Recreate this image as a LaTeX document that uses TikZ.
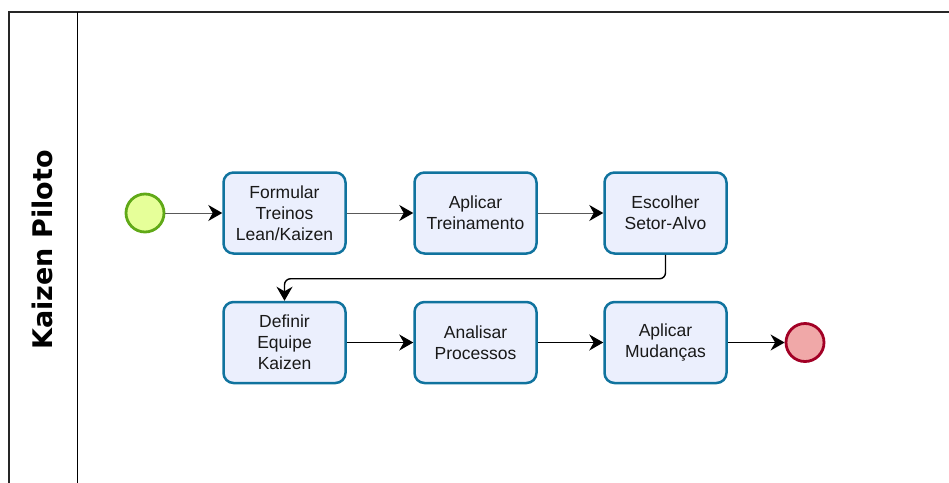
\documentclass[tikz,border=0pt]{standalone}
\usepackage{fontspec}
\setmainfont{Liberation Sans}
\newfontfamily\lanefont{DejaVu Sans}
\usetikzlibrary{arrows.meta}
\definecolor{taskfill}{HTML}{EBEFFD}
\definecolor{taskdraw}{HTML}{10739E}
\definecolor{startfill}{HTML}{E6FF99}
\definecolor{startdraw}{HTML}{60A917}
\definecolor{endfill}{HTML}{F0A8A8}
\definecolor{enddraw}{HTML}{A20025}
\tikzset{
  task/.style={draw=taskdraw, fill=taskfill, line width=2.5pt, rounded corners=10pt,
    minimum width=122pt, minimum height=81pt, align=center, inner sep=0pt,
    font=\fontsize{17.5}{21}\selectfont, text=black!90},
  evt/.style={circle, line width=2.8pt, minimum size=38pt, inner sep=0pt},
  flow/.style={-{Stealth[length=14pt,width=16pt,inset=4.5pt,fill=black]}, line width=1.4pt},
  flowgray/.style={-{Stealth[length=14pt,width=16pt,inset=4.5pt,fill=black,color=black]}, line width=1pt, draw=black!65},
}
\begin{document}
\begin{tikzpicture}[x=1pt,y=-1pt]
\useasboundingbox (0,0) rectangle (949,482);
\clip (0,0) rectangle (949,482);
\draw[line width=1.6pt, draw=black!85] (9,500) -- (9,12) -- (970,12);
\draw[line width=1pt] (77,12) -- (77,500);
\node[rotate=90, font=\lanefont\bfseries\fontsize{27}{30}\selectfont] (lane) at (42,250) {Kaizen Piloto};

\node[evt, draw=startdraw, fill=startfill] (start) at (145,213) {};
\node[task] (t1) at (284.5,213) {Formular\\Treinos\\Lean/Kaizen};
\node[task] (t2) at (475.5,213) {Aplicar\\Treinamento};
\node[task] (t3) at (665.5,213) {Escolher\\Setor-Alvo};
\node[task] (t4) at (284.5,342.5) {Definir\\Equipe\\Kaizen};
\node[task] (t5) at (475.5,342.5) {Analisar\\Processos};
\node[task] (t6) at (665.5,342.5) {Aplicar\\Mudanças};
\node[evt, draw=enddraw, fill=endfill] (end) at (805,342.5) {};

\draw[flowgray] (start) -- (t1);
\draw[flowgray] (t1) -- (t2);
\draw[flowgray] (t2) -- (t3);
\draw[flow, rounded corners=6pt] (t3.south) -- ++(0,24) -| (t4.north);
\draw[flow] (t4) -- (t5);
\draw[flow] (t5) -- (t6);
\draw[flow] (t6) -- (end);
\end{tikzpicture}
\end{document}
